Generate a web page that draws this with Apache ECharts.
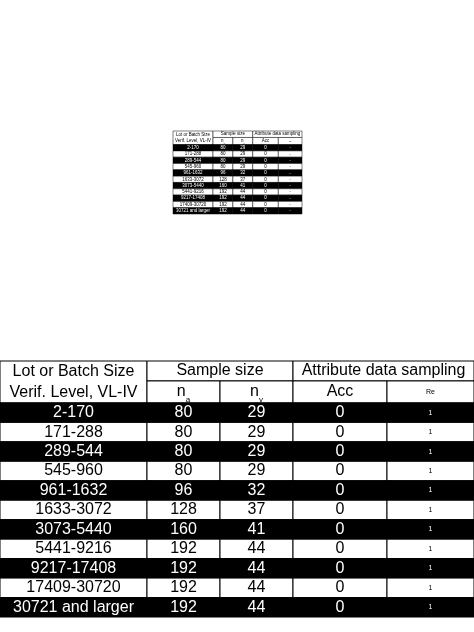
<!DOCTYPE html>
<html><head><meta charset="utf-8">
<script src="https://cdn.jsdelivr.net/npm/echarts@6/dist/echarts.min.js"></script>
<style>html,body{margin:0;padding:0;background:#fff}#main{width:474px;height:632px}</style>
</head><body><div id="main"></div>
<script>
var lots = ['2-170', '171-288', '289-544', '545-960', '961-1632', '1633-3072', '3073-5440', '5441-9216', '9217-17408', '17409-30720', '30721 and larger'];
var na = [80, 80, 80, 80, 96, 128, 160, 192, 192, 192, 192];
var nv = [29, 29, 29, 29, 32, 37, 41, 44, 44, 44, 44];
var acc = [0, 0, 0, 0, 0, 0, 0, 0, 0, 0, 0];
var re = [1, 1, 1, 1, 1, 1, 1, 1, 1, 1, 1];

// layout in table units
var colEdges = [0, 147, 220, 293, 387, 474];
var rowEdges = [0, 20, 42];
for (var k = 1; k <= lots.length; k++) rowEdges.push(42 + 19.5 * k);
var H = rowEdges[rowEdges.length - 1];

// cells: [x0, x1, y0, y1, text, dark, small, borderTop]
var cells = [];
cells.push([0, 1, 0, 2, 'Lot or Batch Size\nVerif. Level, VL-IV', 0, 0]);
cells.push([1, 3, 0, 1, 'Sample size', 0, 0]);
cells.push([3, 5, 0, 1, 'Attribute data sampling', 0, 0]);
cells.push([1, 2, 1, 2, '{n|n}{s|a}', 0, 0]);
cells.push([2, 3, 1, 2, '{n|n}{s|v}', 0, 0]);
cells.push([3, 4, 1, 2, 'Acc', 0, 0]);
cells.push([4, 5, 1, 2, 'Re', 0, 1]);
lots.forEach(function (l, i) {
    var d = i % 2 === 0 ? 1 : 0, r = i + 2;
    cells.push([0, 1, r, r + 1, l, d, 0]);
    cells.push([1, 2, r, r + 1, String(na[i]), d, 0]);
    cells.push([2, 3, r, r + 1, String(nv[i]), d, 0]);
    cells.push([3, 4, r, r + 1, String(acc[i]), d, 0]);
    cells.push([4, 5, r, r + 1, String(re[i]), d, 1]);
});

function makeRender(scale) {
    return function (params, api) {
        var c = cells[params.dataIndex];
        var p0 = api.coord([colEdges[c[0]], rowEdges[c[2]]]);
        var p1 = api.coord([colEdges[c[1]], rowEdges[c[3]]]);
        var w = p1[0] - p0[0], h = p1[1] - p0[1];
        var dark = c[5] === 1;
        var fs = (c[6] ? 7 : 16) * scale;
        var lines = c[4].split('\n');
        var children = [{
            type: 'rect',
            shape: { x: p0[0], y: p0[1], width: w, height: h },
            style: { fill: dark ? '#000' : '#fff', stroke: '#000', lineWidth: Math.max(0.5, scale) }
        }];
        lines.forEach(function (t, j) {
            var rowH = h / lines.length;
            children.push({
                type: 'text',
                style: {
                    text: t, x: p0[0] + w / 2, y: p0[1] + rowH * (j + 0.5),
                    align: 'center', verticalAlign: 'middle',
                    fill: dark ? '#fff' : '#000',
                    font: fs + 'px "Liberation Sans", Arial, sans-serif',
                    rich: {
                        n: { fontSize: 16 * scale, fontFamily: 'Liberation Sans', fill: '#000' },
                        s: { fontSize: 8 * scale, fontFamily: 'Liberation Sans', fill: '#000', verticalAlign: 'bottom', padding: [0, 0, -4 * scale, 0] }
                    }
                }
            });
        });
        return { type: 'group', children: children };
    };
}

var chart = echarts.init(document.getElementById('main'));
var grids = [
    { left: 173, top: 131, width: 129, height: 83, scale: 0.28 },
    { left: 0, top: 361, width: 474, height: 256, scale: 1 }
];
var option = {
    animation: false,
    grid: grids.map(function (g) { return { left: g.left, top: g.top, width: g.width, height: g.height }; }),
    xAxis: grids.map(function (g, i) { return { type: 'value', gridIndex: i, min: 0, max: 474, show: false }; }),
    yAxis: grids.map(function (g, i) { return { type: 'value', gridIndex: i, min: 0, max: H, inverse: true, show: false }; }),
    series: grids.map(function (g, i) {
        return {
            type: 'custom', xAxisIndex: i, yAxisIndex: i, clip: false,
            renderItem: makeRender(g.scale),
            data: cells.map(function (c, j) { return [j]; })
        };
    })
};
chart.setOption(option);
</script></body></html>
